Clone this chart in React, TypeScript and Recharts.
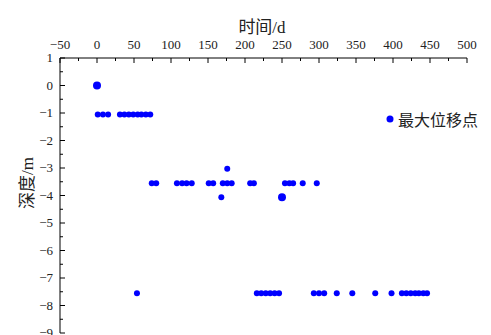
import React from 'react';
import { ScatterChart, Scatter, XAxis, YAxis } from 'recharts';

// time (d) and depth (m) of each measured point, grouped by depth row
const row1Time = [1, 8, 15, 31, 37, 43, 49, 55, 60, 66, 72];
const row1Depth = -1.05;
const row2Time = [74, 80, 108, 115, 121, 128, 151, 157, 170, 176, 182, 207, 212, 254, 260, 265, 278, 297];
const row2Depth = -3.55;
const row3Time = [54, 216, 222, 228, 234, 240, 246, 293, 300, 307, 324, 345, 376, 398, 412, 418, 424, 430, 435, 441, 446];
const row3Depth = -7.55;
const extraTime = [176, 168];
const extraDepth = [-3.03, -4.06];
const maxTime = [0, 250];
const maxDepth = [0, -4.06];

const xTicks = [-50, -25, 0, 25, 50, 75, 100, 125, 150, 175, 200, 225, 250, 275, 300, 325, 350, 375, 400, 425, 450, 475, 500];
const yTicks = [1, 0.5, 0, -0.5, -1, -1.5, -2, -2.5, -3, -3.5, -4, -4.5, -5, -5.5, -6, -6.5, -7, -7.5, -8, -8.5, -9];

const BLUE = '#0000ff';
const NUM_FONT = "'Liberation Serif', 'Times New Roman', 'DejaVu Serif', serif";
const CJK_FONT = "'Liberation Serif', 'Noto Sans CJK SC', serif";

const points = [
  ...row1Time.map((t) => ({ t, d: row1Depth })),
  ...row2Time.map((t) => ({ t, d: row2Depth })),
  ...row3Time.map((t) => ({ t, d: row3Depth })),
  ...extraTime.map((t, i) => ({ t, d: extraDepth[i] })),
];
const maxPoints = maxTime.map((t, i) => ({ t, d: maxDepth[i] }));

const fmt = (v: number) => (v < 0 ? `\u2212${Math.abs(v)}` : `${v}`);

const TopTick = ({ x, y, payload }: any) => {
  const major = payload.value % 50 === 0;
  return (
    <g>
      <line x1={x} x2={x} y1={y} y2={y + (major ? 5 : 3)} stroke="#000" />
      {major && (
        <text x={x} y={y - 9} textAnchor="middle" fontSize={13} style={{ fontFamily: NUM_FONT }} fill="#222">
          {fmt(payload.value)}
        </text>
      )}
    </g>
  );
};

const LeftTick = ({ x, y, payload }: any) => {
  const major = Number.isInteger(payload.value);
  return (
    <g>
      <line x1={x} x2={x + (major ? 5 : 3)} y1={y} y2={y} stroke="#000" />
      {major && (
        <text x={x - 7} y={y + 4} textAnchor="end" fontSize={13} style={{ fontFamily: NUM_FONT }} fill="#222">
          {fmt(payload.value)}
        </text>
      )}
    </g>
  );
};

const SmallDot = (props: any) => <circle cx={props.cx} cy={props.cy} r={3} fill={BLUE} />;
const BigDot = (props: any) => <circle cx={props.cx} cy={props.cy} r={4} fill={BLUE} />;

export default function App() {
  return (
    <div style={{ position: 'absolute', left: 0, top: 0, width: 491, height: 335, overflow: 'hidden', background: '#fff' }}>
      <div
        style={{
          position: 'absolute',
          left: 0,
          width: 491,
          top: 13,
          textAlign: 'center',
          paddingLeft: 33,
          boxSizing: 'border-box',
          fontFamily: CJK_FONT,
          fontSize: 17,
          color: '#222',
        }}
      >
        时间/d
      </div>
      <div
        style={{
          position: 'absolute',
          left: 25,
          top: 183,
          transform: 'translate(-50%, -50%) rotate(-90deg)',
          whiteSpace: 'nowrap',
          fontFamily: CJK_FONT,
          fontSize: 17,
          color: '#222',
        }}
      >
        深度/m
      </div>
      <div
        style={{
          position: 'absolute',
          left: 385,
          top: 107,
          display: 'flex',
          alignItems: 'center',
          fontFamily: CJK_FONT,
          fontSize: 16,
          color: '#222',
        }}
      >
        <svg width={10} height={10} style={{ marginRight: 3 }}>
          <circle cx={5} cy={5} r={3.5} fill={BLUE} />
        </svg>
        最大位移点
      </div>
      <ScatterChart width={491} height={345} margin={{ top: 0, right: 24, bottom: 12, left: 0 }}>
        <XAxis
          type="number"
          dataKey="t"
          orientation="top"
          height={58}
          domain={[-50, 500]}
          ticks={xTicks}
          interval={0}
          tickSize={0}
          tickMargin={0}
          tickLine={false}
          axisLine={{ stroke: '#000' }}
          tick={<TopTick />}
          allowDataOverflow
        />
        <YAxis
          type="number"
          dataKey="d"
          width={60}
          domain={[-9, 1]}
          ticks={yTicks}
          interval={0}
          tickSize={0}
          tickMargin={0}
          tickLine={false}
          axisLine={{ stroke: '#000' }}
          tick={<LeftTick />}
          allowDataOverflow
        />
        <Scatter name="测点" data={points} shape={<SmallDot />} isAnimationActive={false} />
        <Scatter name="最大位移点" data={maxPoints} shape={<BigDot />} isAnimationActive={false} />
      </ScatterChart>
    </div>
  );
}
